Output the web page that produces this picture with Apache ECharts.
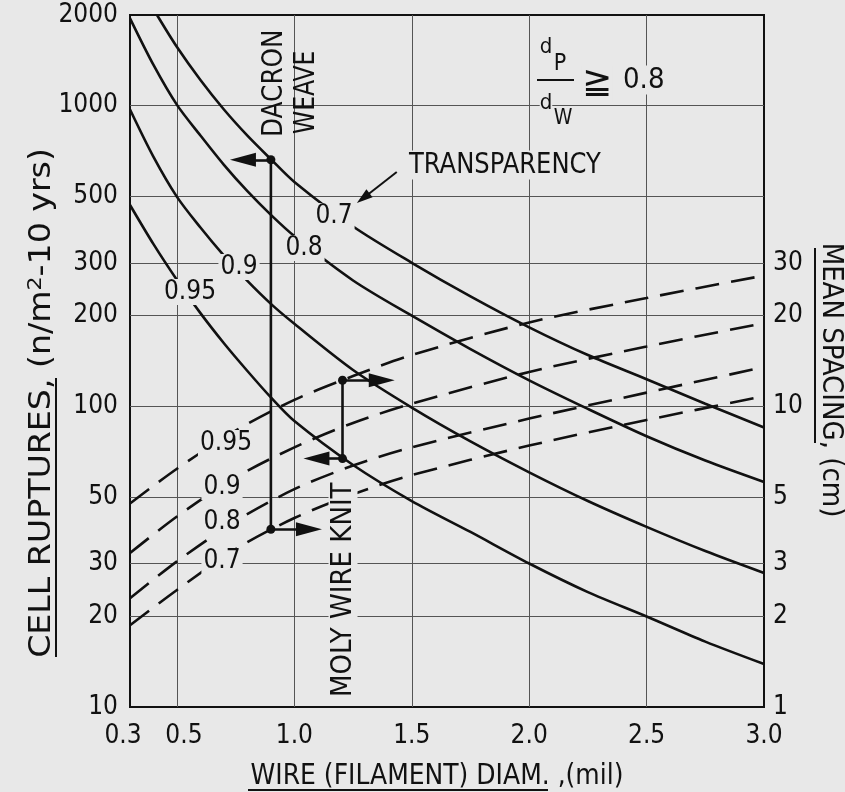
<!DOCTYPE html>
<html><head><meta charset="utf-8">
<script src="https://cdn.jsdelivr.net/npm/echarts@6/dist/echarts.min.js"></script>
<style>html,body{margin:0;padding:0;background:#e8e8e8}#c{width:845px;height:792px}</style>
</head><body><div id="c"></div>
<script>
// ---- tick positions ----
const xTicks = [0.3, 0.5, 1.0, 1.5, 2.0, 2.5, 3.0];
const xGrid = [0.5, 1.0, 1.5, 2.0, 2.5];
const leftTicks = [10, 20, 30, 50, 100, 200, 300, 500, 1000, 2000];
const leftGrid = [20, 30, 50, 100, 200, 300, 500, 1000];
const rightTicks = [1, 2, 3, 5, 10, 20, 30];

// ---- cell ruptures (n/m^2-10 yrs) vs wire diameter (mil), by transparency ----
const rupt070 = [[0.415,2000],[0.5,1565],[0.6,1216],[0.7,970],[0.8,794],[0.9,663],[1.0,557],[1.25,396],[1.5,300],[1.75,232],[2.0,183],[2.25,148],[2.5,123],[2.75,102],[3.0,85]];
const rupt080 = [[0.3,1950],[0.4,1365],[0.5,1005],[0.6,795],[0.7,635],[0.8,519],[0.9,433],[1.0,368],[1.25,262],[1.5,200],[1.75,155],[2.0,122],[2.25,98],[2.5,79.5],[2.75,66],[3.0,56]];
const rupt090 = [[0.3,970],[0.4,675],[0.5,497],[0.6,393],[0.7,317],[0.8,261],[0.9,219],[1.0,188],[1.25,132],[1.5,99],[1.75,76.4],[2.0,60.3],[2.25,48.4],[2.5,39.7],[2.75,33],[3.0,27.9]];
const rupt095 = [[0.3,467],[0.4,346],[0.5,263],[0.6,204],[0.7,162],[0.8,131],[0.9,107],[1.0,89.3],[1.25,63.8],[1.5,48.4],[1.75,38.2],[2.0,30],[2.25,24.1],[2.5,20],[2.75,16.5],[3.0,13.9]];

// ---- mean spacing (cm) vs wire diameter (mil), by transparency ----
const spac095 = [[0.3,4.75],[0.5,6.2],[0.75,8.3],[1.0,10.5],[1.25,12.6],[1.5,14.8],[2.0,19.0],[2.5,22.9],[3.0,27.2]];
const spac090 = [[0.3,3.25],[0.5,4.3],[0.75,5.8],[1.0,7.3],[1.25,8.8],[1.5,10.2],[2.0,13.0],[2.5,15.8],[3.0,18.9]];
const spac080 = [[0.3,2.3],[0.5,3.05],[0.75,4.15],[1.0,5.3],[1.25,6.35],[1.5,7.3],[2.0,9.1],[2.5,11.1],[3.0,13.5]];
const spac070 = [[0.3,1.87],[0.5,2.45],[0.75,3.35],[1.0,4.25],[1.25,5.1],[1.5,5.9],[2.0,7.4],[2.5,9.0],[3.0,10.8]];

// ---- design points ----
const dacronDiam = 0.9, dacronRupt = 660, dacronSpacingRupt = 39;   // 3.9 cm
const molyDiam = 1.205, molyRupt = 67, molySpacingRupt = 122;      // 12.2 cm

const FONT = "'Liberation Sans Narrow','DejaVu Sans Condensed','Arial Narrow',sans-serif";
const BG = '#e8e8e8';
const INK = '#111';

const chart = echarts.init(document.getElementById('c'), null, {renderer: 'canvas'});

function solid(name, data) {
  return {type: 'line', name, data, yAxisIndex: 0, showSymbol: false, smooth: 0.3,
    lineStyle: {color: INK, width: 2.6}, z: 3, silent: true};
}
function dashed(name, data) {
  return {type: 'line', name, data, yAxisIndex: 1, showSymbol: false, smooth: 0.3,
    lineStyle: {color: INK, width: 2.6, type: [24, 12]}, z: 3, silent: true};
}
const arrowLine = {color: INK, width: 2.6, type: 'solid'};

function gtext(text, x, y, size, extra, styleExtra) {
  return Object.assign({type: 'text', x, y, z: 50, silent: true,
    style: Object.assign({text, fontFamily: FONT, fontSize: size, fill: INK, align: 'center', verticalAlign: 'middle'}, styleExtra || {})},
    extra || {});
}
function curveLabel(text, x, y) {
  return gtext(text, x, y, 26, {}, {backgroundColor: BG, padding: [0, 2]});
}
function hline(x1, x2, y) {
  return {type: 'line', z: 51, silent: true, shape: {x1, y1: y, x2, y2: y}, style: {stroke: INK, lineWidth: 2}};
}
function vline(x, y1, y2) {
  return {type: 'line', z: 51, silent: true, shape: {x1: x, y1, x2: x, y2}, style: {stroke: INK, lineWidth: 2}};
}

const tickLabel = {fontFamily: FONT, fontSize: 26, color: INK};

const option = {
  backgroundColor: BG,
  animation: false,
  grid: {left: 130, right: 81, top: 15, bottom: 85, show: true, borderColor: INK, borderWidth: 2, backgroundColor: 'transparent'},
  xAxis: {
    type: 'value', min: 0.3, max: 3.0,
    axisLine: {show: false},
    axisTick: {show: false, customValues: xGrid},
    splitLine: {show: true, lineStyle: {color: '#555', width: 1}},
    axisLabel: Object.assign({customValues: xTicks, margin: 16,
      formatter: v => Math.abs(v - 0.3) < 1e-9 ? '{l|0.3}' : Math.abs(v - 0.5) < 1e-9 ? '{r|0.5}' : v.toFixed(1),
      rich: {l: {fontFamily: FONT, fontSize: 26, color: INK, padding: [0, 14, 0, 0]},
             r: {fontFamily: FONT, fontSize: 26, color: INK, padding: [0, 0, 0, 14]}}}, tickLabel)
  },
  yAxis: [
    {
      type: 'log', logBase: 10, min: 10, max: 2000, position: 'left',
      axisLine: {show: false},
      axisTick: {show: false, customValues: leftGrid},
      splitLine: {show: true, lineStyle: {color: '#555', width: 1}},
      axisLabel: Object.assign({customValues: leftTicks, formatter: v => String(Math.round(v)), margin: 12}, tickLabel)
    },
    {
      type: 'log', logBase: 10, min: 1, max: 200, position: 'right',
      axisLine: {show: false},
      axisTick: {show: false, customValues: rightTicks},
      splitLine: {show: false},
      axisLabel: Object.assign({customValues: rightTicks, formatter: v => String(Math.round(v)), margin: 9}, tickLabel)
    }
  ],
  series: [
    solid('0.7', rupt070), solid('0.8', rupt080), solid('0.9', rupt090), solid('0.95', rupt095),
    dashed('0.95 spacing', spac095), dashed('0.9 spacing', spac090), dashed('0.8 spacing', spac080), dashed('0.7 spacing', spac070),
    {
      type: 'line', name: 'DACRON WEAVE', yAxisIndex: 0, silent: true, z: 4,
      data: [[dacronDiam, dacronRupt], [dacronDiam, dacronSpacingRupt]],
      symbol: 'circle', symbolSize: 9, itemStyle: {color: INK}, lineStyle: {color: INK, width: 2.6},
      markLine: {silent: true, symbol: ['none', 'triangle'], symbolSize: [14, 26], label: {show: false}, lineStyle: arrowLine,
        data: [
          [{coord: [dacronDiam, dacronRupt]}, {coord: [0.781, dacronRupt]}],
          [{coord: [dacronDiam, dacronSpacingRupt]}, {coord: [1.062, dacronSpacingRupt]}]
        ]}
    },
    {
      type: 'line', name: 'MOLY WIRE KNIT', yAxisIndex: 0, silent: true, z: 4,
      data: [[molyDiam, molySpacingRupt], [molyDiam, molyRupt]],
      symbol: 'circle', symbolSize: 9, itemStyle: {color: INK}, lineStyle: {color: INK, width: 2.6},
      markLine: {silent: true, symbol: ['none', 'triangle'], symbolSize: [14, 26], label: {show: false}, lineStyle: arrowLine,
        data: [
          [{coord: [molyDiam, molySpacingRupt]}, {coord: [1.372, molySpacingRupt]}],
          [{coord: [molyDiam, molyRupt]}, {coord: [1.094, molyRupt]}]
        ]}
    },
    {
      type: 'line', name: 'TRANSPARENCY', yAxisIndex: 0, silent: true, data: [],
      markLine: {silent: true, symbol: ['none', 'triangle'], symbolSize: [10, 16], label: {show: false},
        lineStyle: {color: INK, width: 2, type: 'solid'},
        data: [[{coord: [1.436, 601]}, {coord: [1.293, 492]}]]}
    }
  ],
  graphic: [
    // axis titles
    {type: 'text', x: 42, y: 403, rotation: Math.PI / 2, scaleX: 1.23, z: 50, silent: true,
      style: {text: 'CELL RUPTURES, (n/m{sup|2}-10 yrs)', fontFamily: FONT, fontSize: 30, fill: INK, align: 'center', verticalAlign: 'middle',
        rich: {sup: {fontFamily: FONT, fontSize: 20, verticalAlign: 'top', padding: [0, 0, 12, 0], fill: INK}}}},
    vline(56, 378, 657),
    gtext('MEAN SPACING, (cm)', 831, 380, 29, {rotation: -Math.PI / 2}),
    vline(815, 248, 443),
    gtext('WIRE (FILAMENT) DIAM. ,(mil)', 437, 776, 29, {scaleX: 0.96}),
    hline(248, 548, 790),
    // annotations
    gtext('DACRON', 274, 137, 29, {rotation: Math.PI / 2, scaleX: 0.95}, {align: 'left'}),
    gtext('WEAVE', 306, 134, 29, {rotation: Math.PI / 2, scaleX: 0.9}, {align: 'left'}),
    gtext('MOLY WIRE KNIT', 343, 697, 29, {rotation: Math.PI / 2}, {align: 'left', backgroundColor: BG}),
    gtext('TRANSPARENCY', 409, 165, 29, {scaleX: 0.93}, {align: 'left', backgroundColor: BG}),
    // d_P / d_W >= 0.8
    gtext('d', 546, 47, 22, {}, {backgroundColor: BG}),
    gtext('P', 560, 64, 23, {}, {backgroundColor: BG}),
    hline(537, 574, 80),
    gtext('d', 546, 103, 22, {}, {backgroundColor: BG}),
    gtext('W', 563, 119, 21, {}, {backgroundColor: BG}),
    gtext('\u2267', 597, 84, 36, {}, {fontFamily: "'DejaVu Sans', sans-serif", backgroundColor: BG}),
    gtext('0.8', 623, 80, 29, {}, {align: 'left', backgroundColor: BG, padding: [0, 4, 0, 0]}),
    // curve labels
    curveLabel('0.7', 334, 216), curveLabel('0.8', 304, 248), curveLabel('0.9', 239, 267), curveLabel('0.95', 190, 292),
    curveLabel('0.95', 226, 443), curveLabel('0.9', 222, 487), curveLabel('0.8', 222, 522), curveLabel('0.7', 222, 561)
  ]
};
chart.setOption(option);
</script></body></html>
